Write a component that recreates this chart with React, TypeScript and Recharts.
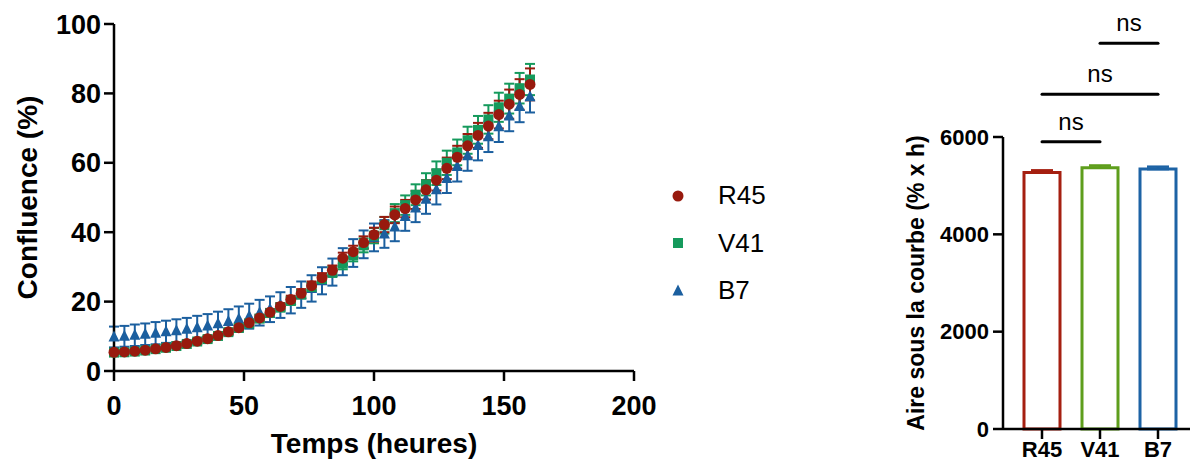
import React from 'react';
import {
  ScatterChart, Scatter, XAxis, YAxis, ErrorBar, Legend,
  BarChart, Bar, Cell, ReferenceLine,
} from 'recharts';

// time points (hours)
const hours = [
  0, 4, 8, 12, 16, 20, 24, 28, 32, 36, 40,
  44, 48, 52, 56, 60, 64, 68, 72, 76, 80,
  84, 88, 92, 96, 100, 104, 108, 112, 116, 120,
  124, 128, 132, 136, 140, 144, 148, 152, 156, 160,
];

// confluence (%) per line
const r45 = [
  5.4, 5.5, 5.7, 6.0, 6.4, 6.8, 7.3, 7.9, 8.6, 9.3, 10.2,
  11.3, 12.5, 13.9, 15.3, 16.9, 18.6, 20.6, 22.4, 24.6, 26.9,
  29.0, 32.5, 34.4, 37.0, 39.3, 42.2, 45.0, 46.8, 49.3, 52.2,
  55.0, 58.4, 61.6, 64.9, 67.9, 70.6, 73.9, 76.9, 79.7, 82.6,
];
const r45Sd = [
  0.5, 0.5, 0.5, 0.5, 0.5, 0.5, 0.6, 0.6, 0.6, 0.7, 0.7,
  0.8, 0.8, 0.9, 0.9, 1.0, 1.0, 1.1, 1.2, 1.2, 1.3,
  1.4, 1.6, 1.7, 1.8, 2.0, 2.2, 2.4, 2.5, 2.6, 2.8,
  3.0, 3.1, 3.3, 3.4, 3.6, 3.8, 4.0, 4.2, 4.4, 4.6,
];
const v41 = [
  5.3, 5.4, 5.6, 5.9, 6.3, 6.7, 7.2, 7.8, 8.5, 9.2, 10.1,
  11.2, 12.4, 13.7, 15.1, 16.7, 18.3, 20.2, 22.1, 24.2, 26.5,
  28.6, 31.0, 33.4, 36.2, 39.0, 42.0, 45.5, 47.8, 50.8, 53.8,
  57.0, 60.0, 63.0, 66.5, 69.5, 72.5, 76.0, 78.5, 81.5, 84.0,
];
const v41Sd = [
  0.5, 0.5, 0.5, 0.5, 0.5, 0.6, 0.6, 0.6, 0.7, 0.7, 0.8,
  0.8, 0.9, 0.9, 1.0, 1.0, 1.1, 1.1, 1.2, 1.3, 1.4,
  1.5, 1.7, 1.8, 2.0, 2.2, 2.4, 2.6, 2.8, 3.0, 3.2,
  3.4, 3.5, 3.7, 3.9, 4.0, 4.1, 4.2, 4.3, 4.4, 4.5,
];
const b7 = [
  9.8, 10.0, 10.3, 10.6, 10.9, 11.3, 11.6, 12.0, 12.5, 13.0, 13.6,
  14.3, 15.0, 15.8, 16.8, 17.8, 19.0, 20.4, 22.0, 23.8, 26.0,
  28.5, 31.5, 34.0, 36.5, 38.5, 39.5, 41.5, 44.5, 47.0, 49.5,
  52.2, 55.5, 58.9, 62.0, 65.0, 67.5, 70.4, 73.5, 76.2, 79.0,
];
const b7Sd = [
  3.0, 3.0, 3.1, 3.1, 3.2, 3.2, 3.3, 3.3, 3.4, 3.4, 3.5,
  3.5, 3.6, 3.6, 3.7, 3.7, 3.7, 3.8, 3.8, 3.8, 3.9,
  3.9, 3.9, 4.0, 4.0, 4.0, 4.0, 4.1, 4.1, 4.1, 4.2,
  4.2, 4.2, 4.3, 4.3, 4.3, 4.4, 4.4, 4.4, 4.5, 4.5,
];

const xTicks = [0, 50, 100, 150, 200];
const yTicks = [0, 20, 40, 60, 80, 100];

// area under the curve
const lines = ['R45', 'V41', 'B7'];
const auc = [5270, 5370, 5340];
const aucSd = [45, 45, 50];
const aucTicks = [0, 2000, 4000, 6000];

const RED = '#981a0e';
const GREEN = '#159a5c';
const BLUE = '#1b5f9f';
const BAR_COLORS = ['#a51f10', '#5e9e1c', '#1d63a5'];
const FONT = '"Liberation Sans", Arial, Helvetica, sans-serif';

const toPoints = (ys: number[], sds: number[]) =>
  hours.map((h, i) => ({ x: h, y: ys[i], sd: sds[i] }));

const r45Data = toPoints(r45, r45Sd);
const v41Data = toPoints(v41, v41Sd);
const b7Data = toPoints(b7, b7Sd);

const aucData = lines.map((name, i) => {
  const row: any = { name, auc: auc[i] };
  row['err' + name] = [0, aucSd[i]];
  return row;
});

const circle = (p: any) => <circle cx={p.cx} cy={p.cy} r={5.5} fill={RED} />;
const square = (p: any) => <rect x={p.cx - 5} y={p.cy - 5} width={10} height={10} fill={GREEN} />;
const triangle = (p: any) => (
  <polygon points={`${p.cx},${p.cy - 6.5} ${p.cx + 5.5},${p.cy + 4.5} ${p.cx - 5.5},${p.cy + 4.5}`} fill={BLUE} />
);

const legendItems = [
  { name: 'R45', marker: <circle cx={10} cy={10} r={5.5} fill={RED} /> },
  { name: 'V41', marker: <rect x={5} y={5} width={10} height={10} fill={GREEN} /> },
  { name: 'B7', marker: <polygon points="10,3.5 15.5,14.5 4.5,14.5" fill={BLUE} /> },
];

const renderLegend = () => (
  <div>
    {legendItems.map((it) => (
      <div key={it.name} style={{ display: 'flex', alignItems: 'center', height: 47.5 }}>
        <svg width={20} height={20}>{it.marker}</svg>
        <span style={{ marginLeft: 30, fontSize: 26, color: '#000', fontFamily: FONT }}>{it.name}</span>
      </div>
    ))}
  </div>
);

const axisStroke = { stroke: '#000', strokeWidth: 2.5 };
const bigTick = { fill: '#000', fontSize: 27, fontWeight: 700, fontFamily: FONT };
const smallTick = { fill: '#000', fontSize: 22, fontWeight: 700, fontFamily: FONT };
const catTick = { fill: '#000', fontSize: 22, fontWeight: 700, fontFamily: FONT };

export default function App() {
  return (
    <div style={{ position: 'fixed', left: 0, top: 0, width: 1190, height: 464, overflow: 'hidden', background: '#fff', fontFamily: FONT }}>
      <div style={{ position: 'absolute', left: 0, top: 0 }}>
        <ScatterChart width={800} height={464} margin={{ top: 24, right: 166, bottom: 13, left: 0 }}>
          <XAxis
            type="number" dataKey="x" domain={[0, 200]} ticks={xTicks} height={80}
            tickSize={10} tickMargin={15} axisLine={axisStroke} tickLine={axisStroke} tick={bigTick}
            label={{ value: 'Temps (heures)', position: 'insideBottom', offset: -2, fill: '#000', fontSize: 28, fontWeight: 700 }}
          />
          <YAxis
            type="number" dataKey="y" domain={[0, 100]} ticks={yTicks} width={114}
            tickSize={10} tickMargin={3} axisLine={axisStroke} tickLine={axisStroke} tick={bigTick}
            label={{ value: 'Confluence (%)', position: 'center', angle: -90, dx: -30, fill: '#000', fontSize: 28, fontWeight: 700 }}
          />
          <Legend layout="vertical" align="center" verticalAlign="middle" wrapperStyle={{ left: 668, top: 172, width: 130 }} content={renderLegend} />
          <Scatter name="B7" data={b7Data} shape={triangle} isAnimationActive={false}>
            <ErrorBar dataKey="sd" direction="y" width={5} stroke={BLUE} strokeWidth={2} />
          </Scatter>
          <Scatter name="V41" data={v41Data} shape={square} isAnimationActive={false}>
            <ErrorBar dataKey="sd" direction="y" width={5} stroke={GREEN} strokeWidth={2} />
          </Scatter>
          <Scatter name="R45" data={r45Data} shape={circle} isAnimationActive={false}>
            <ErrorBar dataKey="sd" direction="y" width={5} stroke={RED} strokeWidth={2} />
          </Scatter>
        </ScatterChart>
      </div>

      <div style={{ position: 'absolute', left: 890, top: 0 }}>
        <BarChart width={307} height={464} data={aucData} margin={{ top: 137, right: 0, bottom: 0, left: 0 }}>
          <XAxis
            dataKey="name" height={35} padding={{ left: 10, right: 10 }}
            tickSize={10} tickMargin={2} axisLine={axisStroke} tickLine={axisStroke} tick={catTick}
          />
          <YAxis
            domain={[0, 6000]} ticks={aucTicks} width={113}
            tickSize={10} tickMargin={4} axisLine={axisStroke} tickLine={axisStroke} tick={smallTick}
            label={{ value: 'Aire sous la courbe (% x h)', position: 'center', angle: -90, dx: -31, fill: '#000', fontSize: 23, fontWeight: 700 }}
          />
          <Bar dataKey="auc" barSize={36} fill="#fff" strokeWidth={3} isAnimationActive={false}>
            {aucData.map((d, i) => (
              <Cell key={d.name} stroke={BAR_COLORS[i]} fill="#fff" />
            ))}
            {lines.map((name, i) => (
              <ErrorBar key={name} dataKey={'err' + name} direction="y" width={11} stroke={BAR_COLORS[i]} strokeWidth={2.5} />
            ))}
          </Bar>
          <ReferenceLine
            segment={[{ x: 'R45', y: 5900 }, { x: 'V41', y: 5900 }]} ifOverflow="visible"
            stroke="#000" strokeWidth={3} strokeLinecap="round"
            label={{ value: 'ns', position: 'top', offset: 12, fill: '#000', fontSize: 24 }}
          />
          <ReferenceLine
            segment={[{ x: 'R45', y: 6880 }, { x: 'B7', y: 6880 }]} ifOverflow="visible"
            stroke="#000" strokeWidth={3} strokeLinecap="round"
            label={{ value: 'ns', position: 'top', offset: 12, fill: '#000', fontSize: 24 }}
          />
          <ReferenceLine
            segment={[{ x: 'V41', y: 7925 }, { x: 'B7', y: 7925 }]} ifOverflow="visible"
            stroke="#000" strokeWidth={3} strokeLinecap="round"
            label={{ value: 'ns', position: 'top', offset: 12, fill: '#000', fontSize: 24 }}
          />
        </BarChart>
      </div>
    </div>
  );
}
